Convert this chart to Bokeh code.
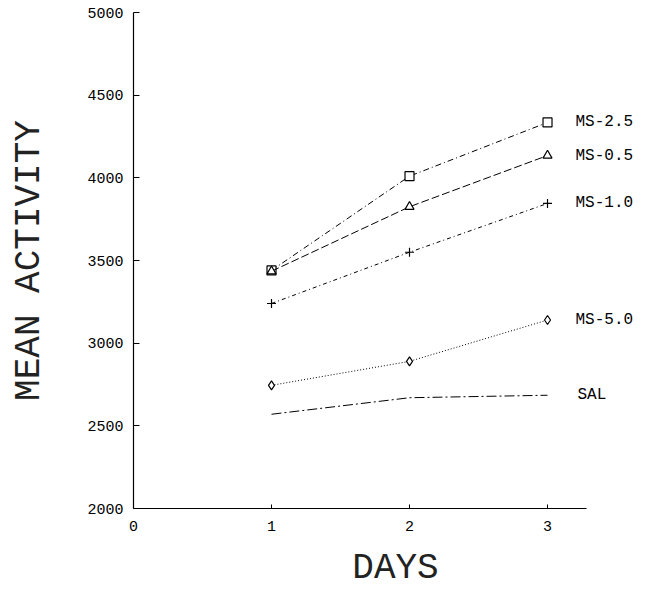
from bokeh.plotting import figure
from bokeh.embed import file_html
from bokeh.resources import INLINE
from bokeh.models import Range1d, FixedTicker, ColumnDataSource
from bokeh.core.properties import value

# ---- data ----
days = [1, 2, 3]
ms25 = [3440, 4010, 4335]
ms05 = [3435, 3825, 4135]
ms10 = [3240, 3550, 3845]
ms50 = [2745, 2890, 3140]
sal = [2570, 2670, 2685]

series_names = ["MS-2.5", "MS-0.5", "MS-1.0", "MS-5.0", "SAL"]
series_vals = [ms25, ms05, ms10, ms50, sal]
series_markers = ["square", "triangle", "cross", "diamond", None]
series_dash = ["6 3 1 3", "8 3", "4 3 1 3", "1 2", "10 3 2 3"]

x_ticks = [0, 1, 2, 3]
y_ticks = [2000, 2500, 3000, 3500, 4000, 4500, 5000]

FONT = "Liberation Mono"

p = figure(width=657, height=596, output_backend="svg", toolbar_location=None,
           x_range=Range1d(0, 3.797), y_range=Range1d(2000, 5000),
           min_border_left=133, min_border_right=0, min_border_top=12,
           min_border_bottom=88)
p.outline_line_color = None
p.xgrid.grid_line_color = None
p.ygrid.grid_line_color = None
p.background_fill_color = "white"
p.border_fill_color = "white"

for name, vals, mk, dash in zip(series_names, series_vals, series_markers, series_dash):
    src = ColumnDataSource(dict(x=days, y=vals))
    p.line("x", "y", source=src, line_color="black", line_width=1, line_dash=dash)
    if mk is not None:
        p.scatter("x", "y", source=src, marker=mk, size=9, line_color="black",
                  fill_color="white", line_width=1.2)
    lab = ColumnDataSource(dict(x=[days[-1]], y=[vals[-1]], t=[name]))
    p.text("x", "y", text="t", source=lab, x_offset=28 if mk else 30,
           text_baseline="middle", text_align="left",
           text_font=value(FONT), text_font_size="16px", text_color="black")

# axes
p.xaxis.ticker = FixedTicker(ticks=x_ticks)
p.yaxis.ticker = FixedTicker(ticks=y_ticks)
p.xaxis.bounds = (0, 3.28)
p.yaxis.bounds = (2000, 5000)
for ax in (p.xaxis, p.yaxis):
    ax.axis_line_color = "black"
    ax.axis_line_width = 1.2
    ax.major_tick_line_color = "black"
    ax.minor_tick_line_color = None
    ax.major_tick_out = 0
    ax.major_label_text_font = FONT
    ax.major_label_text_font_size = "15px"
    ax.major_label_text_color = "black"
    ax.axis_label_text_font = FONT
    ax.axis_label_text_font_style = "normal"
    ax.axis_label_text_font_size = "36px"
    ax.axis_label_text_color = "#222222"
p.yaxis.major_tick_in = 6
p.xaxis.major_tick_in = 4
p.yaxis.major_label_standoff = 10
p.xaxis.major_label_standoff = 12
p.yaxis.axis_label = "MEAN ACTIVITY"
p.xaxis.axis_label = "DAYS"
p.yaxis.axis_label_standoff = 34
p.xaxis.axis_label_standoff = 14

open("out.html", "w").write(file_html(p, INLINE))
